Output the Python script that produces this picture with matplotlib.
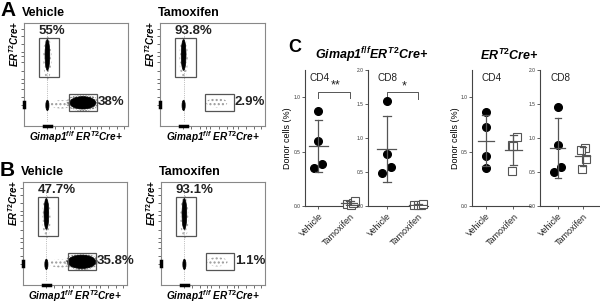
import numpy as np
import matplotlib
matplotlib.use('Agg')
import matplotlib.pyplot as plt
from matplotlib.patches import Ellipse, Rectangle

plt.rcParams['font.family'] = 'Liberation Sans'
plt.rcParams['mathtext.fontset'] = 'custom'
plt.rcParams['mathtext.it'] = 'Liberation Sans:italic:bold'
plt.rcParams['mathtext.rm'] = 'Liberation Sans:bold'
plt.rcParams['mathtext.bf'] = 'Liberation Sans:bold'

# ---- data ----
flow_titles = ['Vehicle', 'Tamoxifen', 'Vehicle', 'Tamoxifen']
flow_pcts = [['55%', '38%'], ['93.8%', '2.9%'], ['47.7%', '35.8%'], ['93.1%', '1.1%']]

groups = ['Vehicle', 'Tamoxifen']
gimap_cd4_veh = [0.87, 0.60, 0.35, 0.39]
gimap_cd4_tam = [0.02, 0.01, 0.03, 0.05]
gimap_cd8_veh = [1.55, 0.76, 0.58, 0.48]
gimap_cd8_tam = [0.02, 0.01, 0.01, 0.03]
ert2_cd4_veh = [0.86, 0.73, 0.46, 0.35]
ert2_cd4_tam = [0.63, 0.56, 0.55, 0.32]
ert2_cd8_veh = [1.46, 0.89, 0.57, 0.50]
ert2_cd8_tam = [0.86, 0.82, 0.69, 0.55]
cd4_ticks = [0.0, 0.5, 1.0]
cd8_ticks = [0.0, 0.5, 1.0, 1.5, 2.0]

W, H = 600, 305
fig = plt.figure(figsize=(6, 3.05), dpi=100)


def px_axes(x0, y0, x1, y1):
    return fig.add_axes([x0 / W, 1 - y1 / H, (x1 - x0) / W, (y1 - y0) / H])


def ftext(x, y, s, **kw):
    fig.text(x / W, 1 - y / H, s, **kw)


# ---- flow plots (A, B) ----
gates = [(0.14, 0.48, 0.34, 0.85), (0.43, 0.15, 0.70, 0.31)]


def log_ticks(start, width, n):
    t = []
    for d in range(n):
        t += [start + d * width + width * np.log10(k) for k in (1, 2, 4, 7)]
    return [v for v in t if v < 0.97]


def flow_plot(box, pcts, tam, strong):
    ax = px_axes(*box)
    ax.set_xlim(0, 1)
    ax.set_ylim(0, 1)
    for s in ax.spines.values():
        s.set_color('#888')
        s.set_linewidth(0.8)
    ax.set_xticks(log_ticks(0.22, 0.26, 4))
    ax.set_yticks(log_ticks(0.2, 0.26, 4))
    ax.set_xticklabels([])
    ax.set_yticklabels([])
    ax.tick_params(length=2, width=0.6, color='#555', direction='out')
    # events piled on the axes
    ax.plot([0.19, 0.26], [0, 0], color='k', lw=2.5, clip_on=False, zorder=5)
    ax.plot([0, 0], [0.18, 0.23], color='k', lw=2.5, clip_on=False, zorder=5)
    # faint vertical streak
    ax.plot([0.225, 0.225], [0.05, 0.9], color='#888', lw=0.5, ls=':')
    ax.add_patch(Ellipse((0.225, 0.66), 0.08, 0.42, facecolor='none', edgecolor='#aaa',
                         lw=0, hatch='....', zorder=1))
    ax.add_patch(Ellipse((0.225, 0.69), 0.045, 0.3, facecolor='k', edgecolor='k',
                         lw=0.5, zorder=3))
    ax.add_patch(Ellipse((0.225, 0.2), 0.03, 0.1, facecolor='k', edgecolor='k',
                         lw=0.5, zorder=3))
    if not tam:
        ax.add_patch(Ellipse((0.36, 0.21), 0.22, 0.08, facecolor='none', edgecolor='#999',
                             lw=0, hatch='....', zorder=1))
        ax.add_patch(Ellipse((0.565, 0.225), 0.32, 0.16, facecolor='none', edgecolor='#555',
                             lw=0, hatch='......', zorder=1))
        ax.add_patch(Ellipse((0.565, 0.225), 0.25 if not strong else 0.27,
                             0.12 if not strong else 0.13, facecolor='k',
                             edgecolor='k', lw=0.5, zorder=3))
    else:
        ax.add_patch(Ellipse((0.54, 0.225), 0.2, 0.09, facecolor='none', edgecolor='#999',
                             lw=0, hatch='....', zorder=1))
    for (x0, y0, x1, y1) in gates:
        ax.add_patch(Rectangle((x0, y0), x1 - x0, y1 - y0, fill=False,
                               edgecolor='#555', lw=0.9, zorder=4))
    g0, g1 = gates
    ax.text(g0[0], g0[3] + 0.015, pcts[0], fontsize=9.5, fontweight='bold',
            color='#222', ha='left', va='bottom', clip_on=False)
    ax.text(g1[2] + 0.01, (g1[1] + g1[3]) / 2, pcts[1], fontsize=9.5, fontweight='bold',
            color='#222', ha='left', va='center', clip_on=False)
    return ax


flow_boxes = [(24, 23, 128, 126), (160, 23, 265, 126), (23, 182, 127, 285), (161, 182, 265, 285)]
for i, box in enumerate(flow_boxes):
    flow_plot(box, flow_pcts[i], tam=(i % 2 == 1), strong=(i == 2))
    x0, y0, x1, y1 = box
    ftext(x0 - 2, y0 - 10, flow_titles[i], fontsize=9, fontweight='bold', va='center')
    ftext(x0 - 10, y0 + 21, r'$ER^{T2}$Cre+', fontsize=7, fontweight='bold',
          fontstyle='italic', rotation=90, ha='center', va='center')
    ftext((x0 + x1) / 2, y1 + 11, r'Gimap1$^{f/f}$ $ER^{T2}$Cre+', fontsize=7.2,
          fontweight='bold', fontstyle='italic', ha='center', va='center')

ftext(0, 11, 'A', fontsize=15, fontweight='bold', va='center')
ftext(0, 171, 'B', fontsize=15, fontweight='bold', va='center')

# ---- panel C ----
ftext(288, 48, 'C', fontsize=13, fontweight='bold', va='center')
ftext(315, 55, r'Gimap1$^{f/f}ER^{T2}$Cre+', fontsize=9, fontweight='bold',
      fontstyle='italic', va='center')
ftext(480, 55, r'$ER^{T2}$Cre+', fontsize=9, fontweight='bold',
      fontstyle='italic', va='center')

dot_panels = [
    ((305, 70, 358, 206), 'CD4', 0.08, gimap_cd4_veh, gimap_cd4_tam, cd4_ticks, 1.25,
     (-0.42, 1.25), '**', 1.05, 0.06, [0.0, 0.0, -0.13, 0.12], [-0.1, 0.02, 0.08, 0.16]),
    ((368, 70, 428, 206), 'CD8', 0.15, gimap_cd8_veh, gimap_cd8_tam, cd8_ticks, 2.0,
     (-0.6, 1.32), '*', 1.67, 0.1, [0.0, 0.0, 0.12, -0.14], [-0.12, 0.0, 0.08, 0.15]),
    ((472, 70, 530, 206), 'CD4', 0.17, ert2_cd4_veh, ert2_cd4_tam, cd4_ticks, 1.25,
     (-0.5, 1.6), None, 0, 0, [0.0, 0.0, 0.0, 0.0], [0.12, -0.06, 0.0, -0.04]),
    ((540, 70, 600, 206), 'CD8', 0.17, ert2_cd8_veh, ert2_cd8_tam, cd8_ticks, 2.0,
     (-0.7, 1.7), None, 0, 0, [0.0, 0.0, 0.12, -0.15], [0.1, -0.06, 0.14, -0.02]),
]

axc = '#444'
for box, lab, lx, veh, tam, ticks, ytop, xl, star, sy, sd, jv, jt in dot_panels:
    ax = px_axes(*box)
    ax.set_ylim(0, ytop)
    ax.set_xlim(*xl)
    for s in ['top', 'right']:
        ax.spines[s].set_visible(False)
    for s in ['left', 'bottom']:
        ax.spines[s].set_color(axc)
        ax.spines[s].set_linewidth(0.8)
    ax.set_yticks(ticks)
    ax.set_yticklabels([f'{t:.1f}' for t in ticks], fontsize=3.5, color='#333')
    ax.set_xticks([0, 1])
    ax.set_xticklabels(groups, rotation=45, ha='right', rotation_mode='anchor',
                       fontsize=6.5, color='#222')
    ax.tick_params(axis='both', length=2, width=0.6, color=axc, pad=1)
    ax.tick_params(axis='x', pad=2)
    ax.text(lx, 0.94, lab, transform=ax.transAxes, fontsize=7.2, va='center', color='#222')
    for i, vals in enumerate([veh, tam]):
        vals = np.array(vals)
        m, s = vals.mean(), vals.std(ddof=1)
        jit = jv if i == 0 else jt
        if i == 0:
            ax.plot(i + np.array(jit), vals, 'o', ms=5.5, color='k', zorder=3, clip_on=False)
        else:
            ax.plot(i + np.array(jit), vals, 's', ms=5.2, mfc='white', mec='#555',
                    mew=0.8, zorder=3, clip_on=False)
        ax.plot([i - 0.3, i + 0.3], [m, m], color='#555', lw=0.9, zorder=4)
        ax.plot([i, i], [m - s, m + s], color='#555', lw=0.9, zorder=4)
        ax.plot([i - 0.12, i + 0.12], [m + s, m + s], color='#555', lw=0.9, zorder=4)
        ax.plot([i - 0.12, i + 0.12], [m - s, m - s], color='#555', lw=0.9, zorder=4)
    if star:
        ax.plot([0, 0, 1, 1], [sy - sd, sy, sy, sy - sd], color='#555', lw=0.7)
        ax.text(0.55, sy + sd * 0.05, star, ha='center', va='bottom', fontsize=9, color='#222')

ftext(288, 138, 'Donor cells (%)', fontsize=6.5, rotation=90, ha='center', va='center')
ftext(456, 138, 'Donor cells (%)', fontsize=6.5, rotation=90, ha='center', va='center')

fig.savefig('out.png', dpi=100)
